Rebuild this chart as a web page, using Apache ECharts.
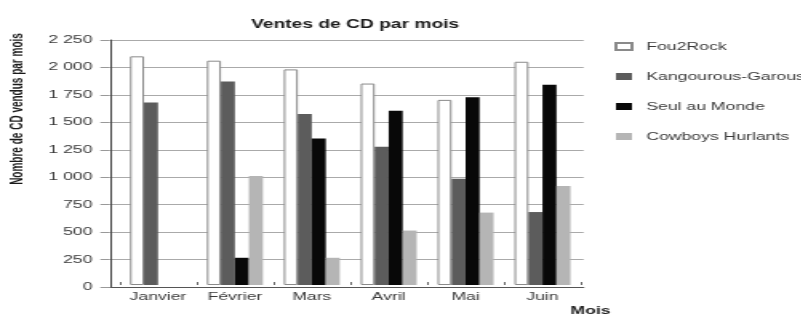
<!DOCTYPE html>
<html>
<head>
<meta charset="utf-8">
<script src="https://cdn.jsdelivr.net/npm/echarts@6/dist/echarts.min.js"></script>
<style>
    html, body { margin: 0; padding: 0; background: #fff; overflow: hidden; }
    /* the source picture is stretched sideways, so the chart is drawn narrow and scaled */
    #chart { width: 500.6px; height: 316px; transform: scaleX(1.6); transform-origin: 0 0; }
</style>
</head>
<body>
<div id="chart"></div>
<script>
// Data
const months = ['Janvier', 'Février', 'Mars', 'Avril', 'Mai', 'Juin']
const fou2Rock = [2100, 2060, 1980, 1850, 1700, 2050]
const kangourous = [1675, 1870, 1570, 1270, 975, 670]
const seulAuMonde = [0, 250, 1345, 1600, 1725, 1840]
const cowboys = [0, 1000, 250, 500, 665, 910]
const yTicks = [0, 250, 500, 750, 1000, 1250, 1500, 1750, 2000, 2250]

const font = '"Liberation Sans", Arial, sans-serif'

// 2 250 style
function formatNum(v) {
    if (v < 1000) return String(v)
    let rest = String(v % 1000)
    while (rest.length < 3) rest = '0' + rest
    return Math.floor(v / 1000) + ' ' + rest
}

let myChart = echarts.init(document.getElementById('chart'))
let option

option = {
    backgroundColor: '#fff',
    animation: false,
    title: {
        text: 'Ventes de CD par mois',
        left: 152,
        top: 14,
        textStyle: { fontFamily: font, fontSize: 12, fontWeight: 'bold', color: '#1a1a1a' },
    },
    legend: {
        orient: 'vertical',
        left: 379,
        top: 36,
        itemWidth: 10,
        itemHeight: 7,
        itemGap: 19,
        icon: 'rect',
        textStyle: { fontFamily: font, fontSize: 11, color: '#3a3a3a', padding: [0, 0, 0, 4] },
        data: ['Fou2Rock', 'Kangourous-Garous', 'Seul au Monde', 'Cowboys Hurlants'],
    },
    grid: [
        // frame: y axis, gridlines, bottom line
        { left: 68.75, right: 136.2, top: 40, bottom: 29 },
        // bars
        { left: 74.75, right: 137.9, top: 40, bottom: 29 },
    ],
    xAxis: [
        {
            gridIndex: 0,
            type: 'value',
            min: 0,
            max: 1,
            axisLine: { show: true, lineStyle: { color: '#555', width: 1 } },
            axisTick: { show: false },
            axisLabel: { show: false },
            splitLine: { show: false },
        },
        {
            gridIndex: 1,
            type: 'category',
            data: months,
            axisLine: { show: false },
            axisTick: { show: true, inside: true, length: 3, lineStyle: { color: '#666' } },
            axisLabel: { fontFamily: font, fontSize: 11, color: '#3a3a3a', margin: 6 },
            name: 'Mois',
            nameLocation: 'end',
            nameGap: 6,
            nameTextStyle: {
                fontFamily: font, fontSize: 11, fontWeight: 'bold', color: '#222',
                align: 'center', verticalAlign: 'top', padding: [20, 0, 0, 0],
            },
        },
    ],
    yAxis: [
        {
            gridIndex: 0,
            type: 'value',
            min: yTicks[0],
            max: yTicks[yTicks.length - 1],
            interval: yTicks[1] - yTicks[0],
            axisLine: { show: true, lineStyle: { color: '#444', width: 1 } },
            axisTick: { show: true, length: 6, lineStyle: { color: '#999' } },
            axisLabel: { fontFamily: font, fontSize: 11, color: '#3a3a3a', margin: 11, formatter: formatNum },
            splitLine: { show: true, lineStyle: { color: '#aaa', width: 1 } },
        },
        {
            gridIndex: 1,
            type: 'value',
            min: yTicks[0],
            max: yTicks[yTicks.length - 1],
            show: false,
            splitLine: { show: false },
        },
    ],
    graphic: [
        {
            type: 'text',
            x: 10.8,
            y: 109,
            rotation: Math.PI / 2,
            style: {
                text: 'Nombre de CD vendus par mois',
                fontFamily: font,
                fontSize: 10,
                fontWeight: 'bold',
                fill: '#1a1a1a',
                align: 'center',
                verticalAlign: 'middle',
            },
        },
    ],
    series: [
        {
            name: 'Fou2Rock',
            type: 'bar',
            xAxisIndex: 1,
            yAxisIndex: 1,
            data: fou2Rock,
            barWidth: 8.75,
            barGap: '0%',
            itemStyle: { color: '#fff', borderColor: '#8a8a8a', borderWidth: 1 },
        },
        {
            name: 'Kangourous-Garous',
            type: 'bar',
            xAxisIndex: 1,
            yAxisIndex: 1,
            data: kangourous,
            barWidth: 8.75,
            barGap: '0%',
            itemStyle: { color: '#5c5c5c' },
        },
        {
            name: 'Seul au Monde',
            type: 'bar',
            xAxisIndex: 1,
            yAxisIndex: 1,
            data: seulAuMonde,
            barWidth: 8.75,
            barGap: '0%',
            itemStyle: { color: '#080808' },
        },
        {
            name: 'Cowboys Hurlants',
            type: 'bar',
            xAxisIndex: 1,
            yAxisIndex: 1,
            data: cowboys,
            barWidth: 8.75,
            barGap: '0%',
            itemStyle: { color: '#b5b5b5' },
        },
    ],
}

myChart.setOption(option)
</script>
</body>
</html>
